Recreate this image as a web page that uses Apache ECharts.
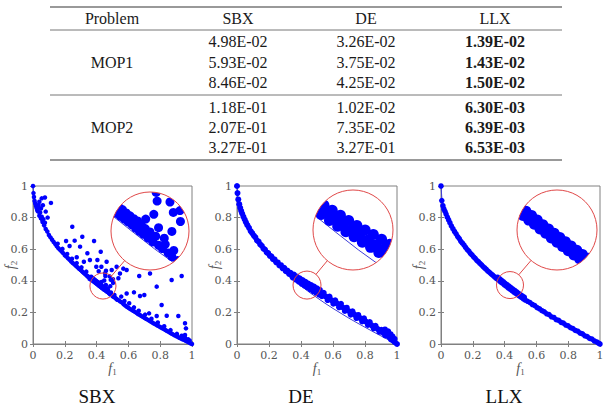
<!DOCTYPE html>
<html>
<head>
<meta charset="utf-8">
<title>SBX / DE / LLX</title>
<script src="https://cdn.jsdelivr.net/npm/echarts@6/dist/echarts.min.js"></script>
<style>
  html, body { margin: 0; padding: 0; background: #fff; }
  #chart { width: 604px; height: 411px; }
</style>
</head>
<body>
<div id="chart"></div>
<script>
// ---- table values ----
var tableHeader = ['Problem', 'SBX', 'DE', 'LLX']
var tableProblems = ['MOP1', 'MOP2']
var tableSBX = ['4.98E-02', '5.93E-02', '8.46E-02', '1.18E-01', '2.07E-01', '3.27E-01']
var tableDE = ['3.26E-02', '3.75E-02', '4.25E-02', '1.02E-02', '7.35E-02', '3.27E-01']
var tableLLX = ['1.39E-02', '1.43E-02', '1.50E-02', '6.30E-03', '6.39E-03', '6.53E-03']

// ---- plots ----
var plotTitles = ['SBX', 'DE', 'LLX']

// true front (thin line)
var frontF1 = [0, 0.005, 0.01, 0.02, 0.04, 0.06, 0.08, 0.1, 0.13, 0.16, 0.2, 0.25, 0.3, 0.35, 0.4, 0.45, 0.5, 0.55, 0.6, 0.65, 0.7, 0.75, 0.8, 0.85, 0.9, 0.95, 1]
var frontF2 = [1, 0.929, 0.9, 0.859, 0.8, 0.755, 0.717, 0.684, 0.639, 0.6, 0.553, 0.5, 0.452, 0.408, 0.368, 0.329, 0.293, 0.258, 0.225, 0.194, 0.163, 0.134, 0.106, 0.078, 0.051, 0.025, 0]

// SBX: points near the front
var sbxFront = [
  [0, 1], [0.003, 0.955], [0.006, 0.93], [0.01, 0.905], [0.014, 0.89], [0.018, 0.875], [0.022, 0.862], [0.026, 0.85], [0.03, 0.84], [0.035, 0.865],
  [0.04, 0.812], [0.045, 0.832], [0.05, 0.795], [0.055, 0.805], [0.06, 0.772], [0.065, 0.79], [0.07, 0.752], [0.075, 0.768], [0.08, 0.728], [0.09, 0.712],
  [0.1, 0.69], [0.11, 0.675], [0.12, 0.66], [0.13, 0.646], [0.14, 0.633], [0.15, 0.618], [0.155, 0.635], [0.16, 0.606], [0.17, 0.596], [0.18, 0.585],
  [0.185, 0.602], [0.19, 0.575], [0.2, 0.562], [0.21, 0.553], [0.215, 0.57], [0.22, 0.543], [0.23, 0.533], [0.24, 0.522], [0.245, 0.54], [0.25, 0.513],
  [0.26, 0.504], [0.27, 0.495], [0.275, 0.512], [0.28, 0.486], [0.29, 0.476], [0.3, 0.468], [0.305, 0.485], [0.31, 0.459], [0.32, 0.45], [0.33, 0.441],
  [0.335, 0.458], [0.34, 0.432], [0.346, 0.425], [0.352, 0.425], [0.356, 0.412], [0.362, 0.41], [0.366, 0.426], [0.37, 0.404], [0.374, 0.418], [0.378, 0.398],
  [0.382, 0.412], [0.386, 0.392], [0.39, 0.405], [0.394, 0.386], [0.398, 0.399], [0.402, 0.38], [0.406, 0.393], [0.41, 0.373], [0.414, 0.388], [0.418, 0.366],
  [0.422, 0.379], [0.426, 0.36], [0.43, 0.372], [0.436, 0.352], [0.44, 0.365], [0.446, 0.344], [0.452, 0.356], [0.458, 0.337], [0.466, 0.33], [0.472, 0.339],
  [0.478, 0.321], [0.486, 0.313], [0.49, 0.326], [0.498, 0.305], [0.506, 0.298], [0.512, 0.31], [0.518, 0.291], [0.525, 0.285], [0.53, 0.28], [0.54, 0.276],
  [0.55, 0.268], [0.555, 0.3], [0.56, 0.262], [0.57, 0.251], [0.575, 0.272], [0.58, 0.244], [0.59, 0.236], [0.6, 0.229], [0.605, 0.258], [0.61, 0.222],
  [0.62, 0.216], [0.63, 0.21], [0.635, 0.232], [0.64, 0.204], [0.65, 0.198], [0.66, 0.19], [0.665, 0.21], [0.67, 0.185], [0.68, 0.178], [0.69, 0.172],
  [0.7, 0.166], [0.705, 0.186], [0.71, 0.16], [0.72, 0.154], [0.73, 0.148], [0.74, 0.142], [0.745, 0.16], [0.75, 0.136], [0.76, 0.13], [0.77, 0.125],
  [0.78, 0.119], [0.785, 0.136], [0.79, 0.113], [0.8, 0.108], [0.81, 0.101], [0.82, 0.096], [0.825, 0.112], [0.83, 0.09], [0.84, 0.084], [0.85, 0.078],
  [0.86, 0.072], [0.865, 0.088], [0.87, 0.066], [0.88, 0.061], [0.89, 0.055], [0.9, 0.05], [0.905, 0.064], [0.91, 0.045], [0.92, 0.04], [0.93, 0.035],
  [0.935, 0.052], [0.94, 0.03], [0.95, 0.026], [0.955, 0.042], [0.96, 0.02], [0.97, 0.015], [0.975, 0.03], [0.98, 0.01], [0.985, 0.022], [0.99, 0.005], [1, 0]
]
// SBX: scattered points away from the front
var sbxScatter = [
  [0.04, 0.9], [0.055, 0.922], [0.062, 0.878], [0.075, 0.927], [0.05, 0.858], [0.08, 0.838], [0.092, 0.8], [0.113, 0.893], [0.035, 0.88],
  [0.247, 0.742], [0.208, 0.652], [0.23, 0.62], [0.262, 0.654], [0.31, 0.679], [0.296, 0.616], [0.384, 0.652], [0.426, 0.584], [0.342, 0.574],
  [0.358, 0.532], [0.405, 0.532], [0.275, 0.549], [0.463, 0.521], [0.32, 0.521], [0.398, 0.489], [0.43, 0.489], [0.413, 0.46], [0.459, 0.464],
  [0.495, 0.468], [0.526, 0.489], [0.547, 0.446], [0.568, 0.477], [0.589, 0.468], [0.537, 0.416], [0.736, 0.446], [0.668, 0.43], [0.872, 0.405],
  [0.935, 0.43], [0.778, 0.363], [0.673, 0.304], [0.7, 0.31], [0.635, 0.327], [0.589, 0.32], [0.809, 0.247], [0.841, 0.179], [0.914, 0.177],
  [0.956, 0.131], [0.962, 0.099], [0.778, 0.177], [0.73, 0.194], [0.956, 0.057],
  [0.453, 0.448], [0.455, 0.43], [0.448, 0.402], [0.489, 0.406], [0.503, 0.41], [0.504, 0.387], [0.486, 0.366], [0.458, 0.374], [0.47, 0.352],
  [0.482, 0.428], [0.431, 0.392]
]
// DE: thick band above the front
var dePoints = [
  [0, 1], [0.003, 0.955], [0.008, 0.915], [0.014, 0.885], [0.02, 0.862], [0.026, 0.843], [0.032, 0.826], [0.04, 0.806], [0.048, 0.788], [0.056, 0.77],
  [0.065, 0.752], [0.075, 0.735], [0.085, 0.715], [0.095, 0.702], [0.105, 0.686], [0.115, 0.675], [0.125, 0.655], [0.135, 0.648], [0.145, 0.63], [0.155, 0.622],
  [0.165, 0.604], [0.175, 0.598], [0.185, 0.58], [0.195, 0.575], [0.205, 0.558], [0.215, 0.555], [0.225, 0.537], [0.235, 0.535], [0.245, 0.517], [0.255, 0.516],
  [0.265, 0.497], [0.275, 0.499], [0.285, 0.479], [0.295, 0.482], [0.305, 0.461], [0.315, 0.465], [0.325, 0.444], [0.335, 0.45], [0.345, 0.427],
  [0.35, 0.42], [0.356, 0.439], [0.362, 0.422], [0.368, 0.407], [0.374, 0.427], [0.38, 0.41], [0.386, 0.394], [0.392, 0.416], [0.398, 0.397], [0.404, 0.381],
  [0.41, 0.405], [0.416, 0.385], [0.422, 0.369], [0.428, 0.394], [0.434, 0.373], [0.44, 0.358], [0.446, 0.383], [0.452, 0.363], [0.458, 0.346], [0.464, 0.373],
  [0.47, 0.351], [0.476, 0.335], [0.482, 0.363], [0.488, 0.341], [0.494, 0.324], [0.5, 0.353], [0.506, 0.332], [0.512, 0.313], [0.518, 0.342], [0.524, 0.321], [0.53, 0.303],
  [0.542, 0.324], [0.554, 0.301], [0.566, 0.278], [0.578, 0.3], [0.59, 0.278], [0.602, 0.255], [0.614, 0.277], [0.626, 0.255], [0.638, 0.232], [0.65, 0.254],
  [0.662, 0.231], [0.674, 0.209], [0.686, 0.23], [0.698, 0.209], [0.71, 0.186], [0.722, 0.207], [0.734, 0.186], [0.746, 0.164], [0.758, 0.184], [0.77, 0.164],
  [0.782, 0.143], [0.794, 0.162], [0.806, 0.141], [0.818, 0.121], [0.83, 0.139], [0.842, 0.118], [0.854, 0.099], [0.866, 0.115], [0.878, 0.096], [0.89, 0.077],
  [0.902, 0.09], [0.914, 0.071], [0.926, 0.054], [0.938, 0.064], [0.95, 0.045], [0.962, 0.029], [0.974, 0.023], [0.986, 0.011], [1, 0],
  [0.925, 0.092], [0.945, 0.08], [0.96, 0.062], [0.972, 0.048], [0.985, 0.032]
]
// LLX: narrow band on the front
var llxPoints = [
  [0, 1], [0.005, 0.908], [0.012, 0.875], [0.018, 0.855], [0.025, 0.84], [0.032, 0.822], [0.04, 0.803], [0.048, 0.785], [0.056, 0.768], [0.065, 0.748],
  [0.075, 0.73], [0.085, 0.712], [0.095, 0.697], [0.105, 0.68], [0.115, 0.667], [0.125, 0.65], [0.135, 0.638], [0.145, 0.626], [0.155, 0.611], [0.165, 0.598],
  [0.175, 0.588], [0.185, 0.574], [0.195, 0.564], [0.205, 0.552], [0.215, 0.542], [0.225, 0.53], [0.235, 0.521], [0.245, 0.51], [0.255, 0.501], [0.265, 0.49],
  [0.275, 0.481], [0.285, 0.472], [0.295, 0.461], [0.305, 0.454], [0.315, 0.444], [0.325, 0.436], [0.335, 0.427], [0.345, 0.418],
  [0.35, 0.414], [0.356, 0.423], [0.362, 0.404], [0.368, 0.413], [0.374, 0.394], [0.38, 0.404], [0.386, 0.385], [0.392, 0.394], [0.398, 0.375], [0.404, 0.384],
  [0.41, 0.366], [0.416, 0.375], [0.422, 0.356], [0.428, 0.366], [0.434, 0.347], [0.44, 0.357], [0.446, 0.338], [0.452, 0.348], [0.458, 0.329], [0.464, 0.339],
  [0.47, 0.32], [0.476, 0.33], [0.482, 0.312], [0.488, 0.321], [0.494, 0.303], [0.5, 0.313], [0.506, 0.295], [0.512, 0.304], [0.518, 0.286], [0.524, 0.296], [0.53, 0.278],
  [0.545, 0.27], [0.56, 0.262], [0.575, 0.25], [0.59, 0.243], [0.605, 0.23], [0.62, 0.223], [0.635, 0.211], [0.65, 0.204], [0.665, 0.191], [0.68, 0.186],
  [0.695, 0.172], [0.71, 0.168], [0.725, 0.154], [0.74, 0.15], [0.755, 0.137], [0.77, 0.132], [0.785, 0.12], [0.8, 0.115], [0.815, 0.103], [0.83, 0.098],
  [0.845, 0.086], [0.86, 0.081], [0.875, 0.069], [0.89, 0.064], [0.905, 0.052], [0.92, 0.047], [0.935, 0.035], [0.95, 0.031], [0.965, 0.019], [0.98, 0.013],
  [0.99, 0.006], [1, 0]
]

var BLUE = '#0000ff'
var FRONT_COLOR = '#3f3fd8'
var RED = '#e04848'
var AXIS_GRAY = '#808080'
var LABEL_GRAY = '#555'
// table / titles: Times metrics; axis labels: a LaTeX-like serif
var SERIF = 'Times New Roman, Liberation Serif, serif'
var AXIS_SERIF = 'DejaVu Serif, serif'

// plot boxes (px)
var panels = [
  { left: 33, top: 186, width: 159, height: 158, titleX: 97, size: 4.5, insetSize: 9 },
  { left: 237, top: 186, width: 160, height: 158, titleX: 301, size: 6, insetSize: 11 },
  { left: 441, top: 186, width: 159, height: 158, titleX: 504, size: 5.5, insetSize: 11 }
]
// magnifier: small circle centre/half range in data, big circle in px
var insets = [
  { cx: 0.44, cy: 0.367, half: 0.082, bx: 150, by: 231, br: 39 },
  { cx: 0.4375, cy: 0.373, half: 0.0875, bx: 353, by: 230, br: 40 },
  { cx: 0.434, cy: 0.373, half: 0.085, bx: 557, by: 230, br: 40 }
]
var panelData = [sbxFront.concat(sbxScatter), dePoints, llxPoints]
var frontData = frontF1.map(function (v, i) { return [v, frontF2[i]] })

// italic f with a small subscript sitting at the bottom of the line
var nameRich = {
  i: { fontFamily: SERIF, fontStyle: 'italic', fontSize: 14, lineHeight: 16, color: LABEL_GRAY },
  s: { fontFamily: SERIF, fontSize: 9, verticalAlign: 'bottom', color: LABEL_GRAY }
}

function mainAxis (k, position, withLabel, name) {
  var isY = position === 'left' || position === 'right'
  return {
    gridIndex: k,
    type: 'value',
    position: position,
    min: 0,
    max: 1,
    interval: 0.2,
    axisLine: { show: true, lineStyle: { color: AXIS_GRAY, width: 1 } },
    axisTick: { show: true, inside: true, length: 3, lineStyle: { color: AXIS_GRAY } },
    splitLine: { show: false },
    axisLabel: {
      show: withLabel,
      color: LABEL_GRAY,
      fontFamily: AXIS_SERIF,
      fontSize: 11,
      margin: isY ? 5 : 6
    },
    name: name || '',
    nameLocation: 'middle',
    nameGap: isY ? 15 : 16,
    nameMoveOverlap: !isY,
    nameRotate: isY ? 90 : 0,
    nameTextStyle: { rich: nameRich }
  }
}

function circleClip (ins) {
  return { type: 'circle', shape: { cx: ins.bx, cy: ins.by, r: ins.br } }
}

var grid = []
var xAxis = []
var yAxis = []
var series = []
var graphic = []

// main grids 0..2, inset grids 3..5
panels.forEach(function (p) {
  grid.push({ left: p.left, top: p.top, width: p.width, height: p.height, show: true, borderColor: AXIS_GRAY, borderWidth: 1, backgroundColor: 'transparent', outerBoundsMode: 'none' })
})
insets.forEach(function (ins) {
  grid.push({ left: ins.bx - ins.br, top: ins.by - ins.br, width: ins.br * 2, height: ins.br * 2, outerBoundsMode: 'none' })
})

// x: 0..2 bottom, 3..5 top, 6..8 inset  (same for y)
panels.forEach(function (p, k) {
  xAxis.push(mainAxis(k, 'bottom', true, '{i|f}{s|1}'))
  yAxis.push(mainAxis(k, 'left', true, '{i|f}{s|2}'))
})
panels.forEach(function (p, k) {
  xAxis.push(mainAxis(k, 'top', false))
  yAxis.push(mainAxis(k, 'right', false))
})
insets.forEach(function (ins, k) {
  xAxis.push({ gridIndex: 3 + k, type: 'value', show: false, min: ins.cx - ins.half, max: ins.cx + ins.half })
  yAxis.push({ gridIndex: 3 + k, type: 'value', show: false, min: ins.cy - ins.half, max: ins.cy + ins.half })
})

panels.forEach(function (p, k) {
  var ins = insets[k]
  // main plot
  series.push({
    type: 'line', xAxisIndex: k, yAxisIndex: k, data: frontData,
    symbol: 'none', lineStyle: { color: FRONT_COLOR, width: 1 }, z: 2, silent: true
  })
  series.push({
    type: 'scatter', xAxisIndex: k, yAxisIndex: k, data: panelData[k],
    symbolSize: p.size, itemStyle: { color: BLUE, opacity: 1 }, z: 3, silent: true
  })
  // magnified view, clipped to the big circle
  series.push({
    type: 'custom', xAxisIndex: 6 + k, yAxisIndex: 6 + k, data: frontData, z: 6, silent: true,
    renderItem: function (params, api) {
      var i = params.dataIndexInside
      if (i >= params.dataInsideLength - 1) return null
      var a = api.coord([api.value(0, i), api.value(1, i)])
      var b = api.coord([api.value(0, i + 1), api.value(1, i + 1)])
      return {
        type: 'line',
        shape: { x1: a[0], y1: a[1], x2: b[0], y2: b[1] },
        style: { stroke: FRONT_COLOR, lineWidth: 1 },
        clipPath: circleClip(ins)
      }
    }
  })
  series.push({
    type: 'custom', xAxisIndex: 6 + k, yAxisIndex: 6 + k, data: panelData[k], z: 7, silent: true,
    renderItem: function (params, api) {
      var c = api.coord([api.value(0), api.value(1)])
      return {
        type: 'circle',
        shape: { cx: c[0], cy: c[1], r: p.insetSize / 2 },
        style: { fill: BLUE },
        clipPath: circleClip(ins)
      }
    }
  })

  // magnifier circles and connector
  var sx = p.left + ins.cx * p.width
  var sy = p.top + p.height - ins.cy * p.height
  var sr = ins.half * p.width
  var dx = ins.bx - sx
  var dy = ins.by - sy
  var d = Math.sqrt(dx * dx + dy * dy)
  graphic.push({ type: 'circle', shape: { cx: ins.bx, cy: ins.by, r: ins.br }, style: { fill: '#fff' }, z: 5, silent: true })
  graphic.push({ type: 'circle', shape: { cx: ins.bx, cy: ins.by, r: ins.br }, style: { fill: 'none', stroke: RED, lineWidth: 1 }, z: 8, silent: true })
  graphic.push({ type: 'circle', shape: { cx: sx, cy: sy, r: sr }, style: { fill: 'none', stroke: RED, lineWidth: 1 }, z: 8, silent: true })
  graphic.push({
    type: 'line',
    shape: { x1: sx + dx / d * sr, y1: sy + dy / d * sr, x2: ins.bx - dx / d * ins.br, y2: ins.by - dy / d * ins.br },
    style: { stroke: RED, lineWidth: 1 }, z: 8, silent: true
  })
  // panel title
  graphic.push({
    type: 'text', x: p.titleX, y: 396, z: 10, silent: true,
    style: { text: plotTitles[k], font: '19px ' + SERIF, fill: '#111', textAlign: 'center', textVerticalAlign: 'middle' }
  })
})

// ---- table ----
var colX = [112, 238, 366, 495]
var rowY = [41, 62, 82, 107, 127, 147]
var tableLines = [{ y: 7, w: 1.5 }, { y: 30, w: 1 }, { y: 95, w: 1 }, { y: 160, w: 1.5 }]
tableLines.forEach(function (l) {
  graphic.push({ type: 'line', shape: { x1: 50, y1: l.y, x2: 562, y2: l.y }, style: { stroke: '#777', lineWidth: l.w }, z: 10, silent: true })
})
function cell (text, x, y, bold) {
  graphic.push({
    type: 'text', x: x, y: y, z: 10, silent: true,
    style: { text: text, font: (bold ? 'bold ' : '') + '16px ' + SERIF, fill: '#1a1a1a', textAlign: 'center', textVerticalAlign: 'middle' }
  })
}
tableHeader.forEach(function (h, i) { cell(h, colX[i], 18, false) })
cell(tableProblems[0], colX[0], rowY[1], false)
cell(tableProblems[1], colX[0], rowY[4], false)
rowY.forEach(function (y, r) {
  cell(tableSBX[r], colX[1], y, false)
  cell(tableDE[r], colX[2], y, false)
  cell(tableLLX[r], colX[3], y, true)
})

var chart = echarts.init(document.getElementById('chart'), null, { renderer: 'svg' })
chart.setOption({
  animation: false,
  backgroundColor: '#fff',
  grid: grid,
  xAxis: xAxis,
  yAxis: yAxis,
  series: series,
  graphic: { elements: graphic }
})
window.addEventListener('resize', function () { chart.resize() })
</script>
</body>
</html>
